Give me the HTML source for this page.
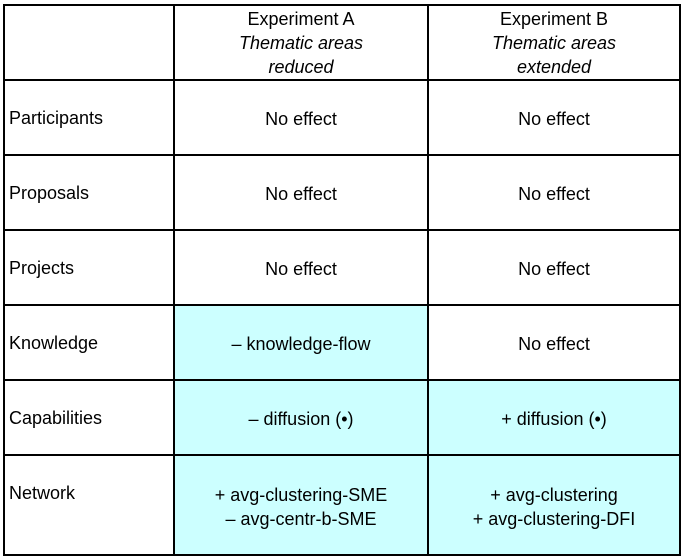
<!DOCTYPE html><html><head><style>
body{margin:0;width:686px;height:560px;background:#fff;position:relative;font-family:"Liberation Sans",sans-serif;font-size:18px;color:#000;overflow:hidden}
.h{position:absolute;left:3px;width:678px;height:2px;background:#000}
.v{position:absolute;top:4px;height:552px;width:2px;background:#000}
.c{position:absolute;display:flex;align-items:center;justify-content:center;text-align:center;line-height:24px}
.l{position:absolute;left:9px;display:flex;align-items:center}
.cy{position:absolute;background:#ccffff}
</style></head><body>
<div class="cy" style="left:175px;top:306px;width:252px;height:248px"></div>
<div class="cy" style="left:429px;top:381px;width:250px;height:173px"></div>
<div class="h" style="top:4px"></div><div class="h" style="top:79px"></div><div class="h" style="top:154px"></div><div class="h" style="top:229px"></div><div class="h" style="top:304px"></div><div class="h" style="top:379px"></div><div class="h" style="top:454px"></div><div class="h" style="top:554px"></div>
<div class="v" style="left:3px"></div><div class="v" style="left:173px"></div><div class="v" style="left:427px"></div><div class="v" style="left:679px"></div>
<div class="c" style="left:175px;top:6px;width:252px;height:73px"><span>Experiment A<br><i>Thematic areas<br>reduced</i></span></div>
<div class="c" style="left:429px;top:6px;width:250px;height:73px"><span>Experiment B<br><i>Thematic areas<br>extended</i></span></div>
<div class="l" style="top:82px;height:73px">Participants</div>
<div class="l" style="top:157px;height:73px">Proposals</div>
<div class="l" style="top:232px;height:73px">Projects</div>
<div class="l" style="top:307px;height:73px">Knowledge</div>
<div class="l" style="top:382px;height:73px">Capabilities</div>
<div class="l" style="top:457px;height:73px">Network</div>
<div class="c" style="left:175px;top:82px;width:252px;height:73px">No effect</div>
<div class="c" style="left:429px;top:82px;width:250px;height:73px">No effect</div>
<div class="c" style="left:175px;top:157px;width:252px;height:73px">No effect</div>
<div class="c" style="left:429px;top:157px;width:250px;height:73px">No effect</div>
<div class="c" style="left:175px;top:232px;width:252px;height:73px">No effect</div>
<div class="c" style="left:429px;top:232px;width:250px;height:73px">No effect</div>
<div class="c" style="left:175px;top:307px;width:252px;height:73px">– knowledge-flow</div>
<div class="c" style="left:429px;top:307px;width:250px;height:73px">No effect</div>
<div class="c" style="left:175px;top:382px;width:252px;height:73px">– diffusion (•)</div>
<div class="c" style="left:429px;top:382px;width:250px;height:73px">+ diffusion (•)</div>
<div class="c" style="left:175px;top:470px;width:252px;height:73px"><span>+ avg-clustering-SME<br>– avg-centr-b-SME</span></div>
<div class="c" style="left:429px;top:470px;width:250px;height:73px"><span>+ avg-clustering<br>+ avg-clustering-DFI</span></div>
</body></html>
